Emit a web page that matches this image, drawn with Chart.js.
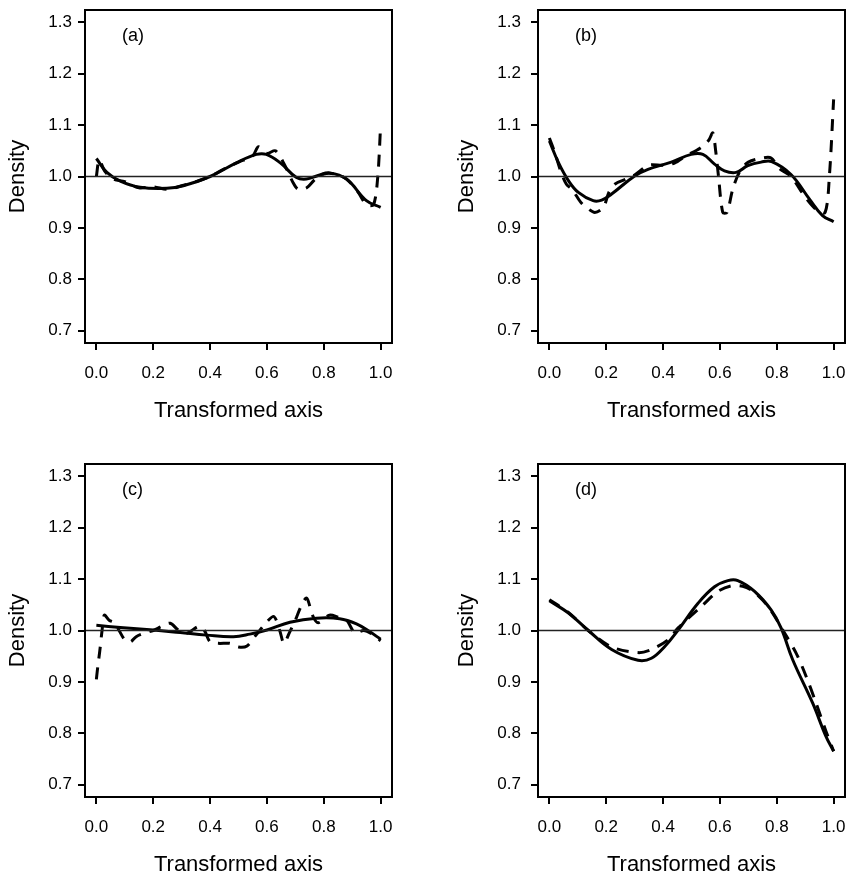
<!DOCTYPE html>
<html>
<head>
<meta charset="utf-8">
<script src="https://cdn.jsdelivr.net/npm/chart.js@4.4.1/dist/chart.umd.min.js"></script>
<style>
html, body { margin: 0; padding: 0; background: #fff; overflow: hidden; width: 850px; height: 878px; }
canvas { position: absolute; }
</style>
</head>
<body>
<canvas id="chartA" width="425" height="424" style="left:0;top:0"></canvas>
<canvas id="chartB" width="397" height="424" style="left:453px;top:0"></canvas>
<canvas id="chartC" width="425" height="424" style="left:0;top:454px"></canvas>
<canvas id="chartD" width="397" height="424" style="left:453px;top:454px"></canvas>
<script>
const xTicks = [0.0, 0.2, 0.4, 0.6, 0.8, 1.0];
const yTicks = [0.7, 0.8, 0.9, 1.0, 1.1, 1.2, 1.3];
const refLevel = 1.0;
const panelNames = ['(a)', '(b)', '(c)', '(d)'];
const xTitle = 'Transformed axis';
const yTitle = 'Density';

// smooth (solid) and rough (dashed) density estimates, [x, density]
const smoothA = [[0,1.035],[0.037,1.008],[0.084,0.991],[0.154,0.979],[0.248,0.977],[0.306,0.982],[0.4,1.0],[0.494,1.027],[0.563,1.043],[0.598,1.043],[0.646,1.027],[0.704,0.998],[0.739,0.995],[0.78,1.002],[0.821,1.007],[0.88,0.995],[0.95,0.953],[1.0,0.94]];
const dashedA = [[0,1.0],[0.01,1.032],[0.03,1.01],[0.06,0.995],[0.1,0.99],[0.15,0.978],[0.2,0.98],[0.25,0.975],[0.3,0.982],[0.35,0.99],[0.4,1.0],[0.45,1.015],[0.5,1.028],[0.55,1.04],[0.57,1.058],[0.6,1.045],[0.63,1.05],[0.66,1.025],[0.69,0.99],[0.71,0.975],[0.74,0.978],[0.77,0.995],[0.8,1.005],[0.84,1.005],[0.88,0.995],[0.92,0.97],[0.95,0.945],[0.975,0.945],[0.99,1.0],[1.0,1.1]];

const smoothB = [[0,1.069],[0.032,1.027],[0.067,0.992],[0.102,0.969],[0.154,0.953],[0.184,0.954],[0.219,0.966],[0.3,1.001],[0.347,1.014],[0.429,1.028],[0.499,1.043],[0.54,1.043],[0.581,1.024],[0.616,1.011],[0.657,1.008],[0.698,1.021],[0.745,1.028],[0.782,1.029],[0.85,1.004],[0.915,0.956],[0.961,0.924],[1.0,0.912]];
const dashedB = [[0,1.075],[0.02,1.045],[0.04,1.01],[0.06,0.985],[0.08,0.975],[0.11,0.95],[0.13,0.94],[0.16,0.93],[0.19,0.94],[0.21,0.97],[0.23,0.985],[0.27,0.995],[0.3,1.003],[0.35,1.022],[0.4,1.022],[0.44,1.026],[0.48,1.04],[0.53,1.055],[0.56,1.07],[0.575,1.085],[0.585,1.05],[0.595,1.0],[0.61,0.93],[0.625,0.93],[0.645,0.975],[0.67,1.01],[0.7,1.028],[0.75,1.036],[0.78,1.036],[0.81,1.015],[0.85,1.0],[0.9,0.96],[0.94,0.935],[0.97,0.93],[0.985,1.0],[1.0,1.15]];

const smoothC = [[0,1.01],[0.084,1.006],[0.2,1.001],[0.295,0.996],[0.388,0.991],[0.482,0.988],[0.54,0.993],[0.6,1.001],[0.681,1.016],[0.774,1.024],[0.856,1.023],[0.915,1.013],[0.961,0.998],[1.0,0.983]];
const dashedC = [[0,0.905],[0.005,0.93],[0.012,0.96],[0.02,1.0],[0.028,1.03],[0.045,1.02],[0.065,1.015],[0.08,1.0],[0.1,0.982],[0.12,0.978],[0.14,0.988],[0.17,0.995],[0.2,1.0],[0.23,1.008],[0.26,1.014],[0.29,1.0],[0.32,0.995],[0.36,1.008],[0.38,1.0],[0.4,0.978],[0.43,0.975],[0.47,0.975],[0.5,0.968],[0.53,0.97],[0.56,0.99],[0.6,1.017],[0.625,1.027],[0.645,1.0],[0.66,0.975],[0.68,0.997],[0.7,1.02],[0.72,1.047],[0.74,1.063],[0.76,1.03],[0.78,1.015],[0.82,1.03],[0.85,1.026],[0.88,1.02],[0.91,0.995],[0.94,1.0],[0.97,0.993],[1.0,0.98]];

const smoothD = [[0,1.058],[0.067,1.034],[0.137,1.0],[0.219,0.963],[0.312,0.942],[0.359,0.946],[0.406,0.969],[0.453,1.001],[0.523,1.053],[0.581,1.085],[0.628,1.097],[0.663,1.097],[0.722,1.076],[0.78,1.04],[0.815,1.005],[0.856,0.943],[0.926,0.859],[0.973,0.794],[1.0,0.765]];
const dashedD = [[0,1.06],[0.067,1.035],[0.137,1.0],[0.219,0.968],[0.312,0.957],[0.359,0.963],[0.418,0.982],[0.453,1.005],[0.535,1.047],[0.593,1.076],[0.64,1.087],[0.68,1.086],[0.72,1.075],[0.769,1.047],[0.821,1.001],[0.868,0.956],[0.903,0.911],[0.938,0.859],[0.973,0.804],[1.0,0.765]];

const family = '"Liberation Sans", Arial, Helvetica, sans-serif';

function toPoints(arr) {
    return arr.map(p => ({x: p[0], y: p[1]}));
}

// box around the plot region plus the panel letter
const framePlugin = {
    id: 'frame',
    afterDraw(chart, args, opts) {
        const {ctx, chartArea: a, scales} = chart;
        ctx.save();
        ctx.strokeStyle = '#000';
        ctx.lineWidth = 2;
        ctx.strokeRect(a.left, a.top, a.right - a.left, a.bottom - a.top);
        ctx.fillStyle = '#000';
        ctx.font = '18px ' + family;
        ctx.textBaseline = 'middle';
        ctx.fillText(opts.label, scales.x.getPixelForValue(0.09), scales.y.getPixelForValue(1.273));
        ctx.restore();
    }
};

function makePanel(id, label, smooth, dashed, rightPad, yLabelPad, yTitlePad) {
    new Chart(document.getElementById(id), {
        type: 'line',
        data: {
            datasets: [
                {
                    data: [{x: -0.04, y: refLevel}, {x: 1.04, y: refLevel}],
                    borderColor: '#222',
                    borderWidth: 1.3,
                    pointRadius: 0,
                },
                {
                    data: toPoints(dashed),
                    borderColor: '#000',
                    borderWidth: 3,
                    borderDash: [12, 9],
                    pointRadius: 0,
                    tension: 0.3,
                },
                {
                    data: toPoints(smooth),
                    borderColor: '#000',
                    borderWidth: 3,
                    pointRadius: 0,
                    tension: 0.4,
                }
            ]
        },
        options: {
            responsive: false,
            animation: false,
            devicePixelRatio: 1,
            layout: {padding: {top: 10, right: rightPad, left: 0, bottom: 0}},
            plugins: {
                legend: {display: false},
                tooltip: {enabled: false},
                frame: {label: label},
            },
            scales: {
                x: {
                    type: 'linear',
                    min: -0.04,
                    max: 1.04,
                    afterBuildTicks: s => { s.ticks = xTicks.map(v => ({value: v})); },
                    afterFit: s => { s.height = 81; s.paddingLeft = 0; s.paddingRight = 0; },
                    grid: {drawOnChartArea: false, tickLength: 7, color: '#000', lineWidth: 2},
                    border: {display: false},
                    ticks: {
                        padding: 13,
                        color: '#000',
                        font: {size: 17, family: family},
                        maxRotation: 0,
                        autoSkip: false,
                        callback: v => v.toFixed(1),
                    },
                    title: {display: true, text: xTitle, color: '#000', font: {size: 22, family: family}, padding: {top: 0, bottom: 0}},
                },
                y: {
                    type: 'linear',
                    min: 0.676,
                    max: 1.324,
                    afterBuildTicks: s => { s.ticks = yTicks.map(v => ({value: v})); },
                    afterFit: s => { s.width = 85; s.paddingTop = 0; s.paddingBottom = 0; },
                    grid: {drawOnChartArea: false, tickLength: 7, color: '#000', lineWidth: 2},
                    border: {display: false},
                    ticks: {
                        padding: yLabelPad,
                        color: '#000',
                        font: {size: 17, family: family},
                        autoSkip: false,
                        callback: v => v.toFixed(1),
                    },
                    title: {display: true, text: yTitle, color: '#000', font: {size: 22, family: family}, padding: {top: yTitlePad, bottom: 0}},
                }
            }
        },
        plugins: [framePlugin]
    });
}

makePanel('chartA', panelNames[0], smoothA, dashedA, 33, 6, 5);
makePanel('chartB', panelNames[1], smoothB, dashedB, 5, 10, 1);
makePanel('chartC', panelNames[2], smoothC, dashedC, 33, 6, 5);
makePanel('chartD', panelNames[3], smoothD, dashedD, 5, 10, 1);
</script>
</body>
</html>
